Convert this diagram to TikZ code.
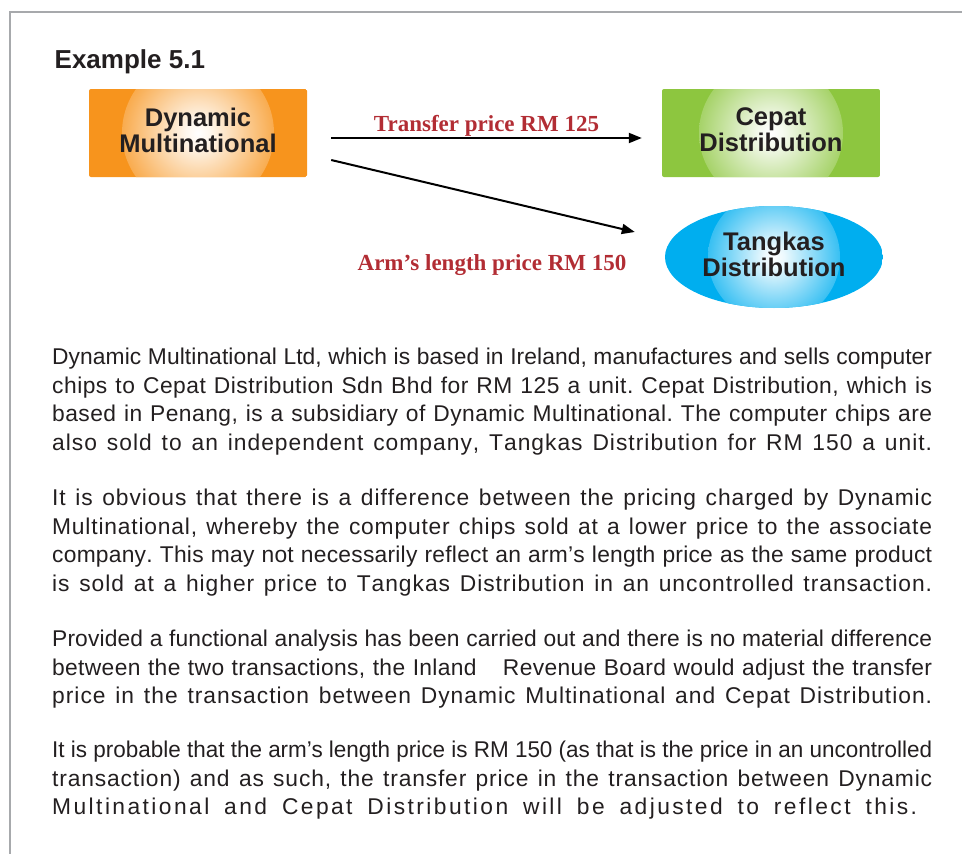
\documentclass[tikz,border=0pt]{standalone}
\usepackage{fontspec}
\usepackage{graphicx}
\setmainfont{Liberation Sans}
\newfontfamily\serifbf{Liberation Serif}
\usetikzlibrary{shapes.geometric, arrows.meta}
\definecolor{orgc}{RGB}{247,148,29}
\definecolor{grnc}{RGB}{141,198,63}
\definecolor{bluc}{RGB}{0,174,239}
\definecolor{txt}{RGB}{35,31,32}
\definecolor{lblred}{RGB}{178,45,52}
\definecolor{framec}{RGB}{167,169,172}
\colorlet{orgL}{orgc!78!white}
\colorlet{grnL}{grnc!78!white}
\colorlet{bluL}{bluc!78!white}
\colorlet{orgM}{orgc!45!white}
\colorlet{grnM}{grnc!45!white}
\colorlet{bluM}{bluc!45!white}
\colorlet{orgS}{orgc!8!white}
\colorlet{grnS}{grnc!8!white}
\colorlet{bluS}{bluc!8!white}
\pgfdeclareradialshading{glowO}{\pgfpoint{0bp}{0bp}}{color(0bp)=(white); color(4bp)=(orgS); color(15bp)=(orgM); color(25bp)=(orgL); color(50bp)=(orgL)}
\pgfdeclareradialshading{glowG}{\pgfpoint{0bp}{0bp}}{color(0bp)=(white); color(4bp)=(grnS); color(15bp)=(grnM); color(25bp)=(grnL); color(50bp)=(grnL)}
\pgfdeclareradialshading{glowB}{\pgfpoint{0bp}{0bp}}{color(0bp)=(white); color(4bp)=(bluS); color(15bp)=(bluM); color(25bp)=(bluL); color(50bp)=(bluL)}
\ExplSyntaxOn
\NewDocumentCommand \jline { m m }
 {
  \hbox_set:Nn \l_tmpa_box {#2}
  \dim_compare:nNnTF { \box_wd:N \l_tmpa_box } > {#1}
   { \resizebox{#1}{\height}{#2} }
   {
    \makebox[#1][s]{
      \str_map_inline:nn {#2}
       {
        \str_case:nnF {##1}
         {
          {~}{ \hskip 0.278em plus 2.5pt minus 0.05em }
          {|}{ \hskip 26pt }
         }
         { ##1 \hskip 0pt plus 1pt }
       }
      \unskip
     }
   }
 }
\ExplSyntaxOff
\tikzset{
  glowfill/.style n args={3}{path picture={
      \fill[#1] (path picture bounding box.south west) rectangle (path picture bounding box.north east);
      \shade[shading=#2] (path picture bounding box.center) circle[radius=#3];}},
  boxtxt/.style={font=\fontsize{25.5}{26}\selectfont\bfseries, text=txt, align=center, inner sep=0pt},
  rectbox/.style={rectangle, rounded corners=2pt, minimum width=218pt, minimum height=88pt},
  ellbox/.style={ellipse, minimum width=218pt, minimum height=102pt},
  body/.style={font=\fontsize{22.8}{26}\selectfont, text=txt, inner sep=0pt, anchor=base west},
  lbl/.style={font=\fontsize{23}{26}\serifbf\bfseries, text=lblred, inner sep=0pt},
  arr/.style={draw=black, line width=2pt, -{Triangle[length=13pt,width=10pt]}}
}
\begin{document}
\begin{tikzpicture}[x=1pt,y=-1pt]
\useasboundingbox (0,0) rectangle (962,854);
\draw[framec, line width=2pt] (962,12) -- (9.5,12) -- (9.5,854);
\node[anchor=base west, font=\fontsize{26}{30}\selectfont\bfseries, text=txt, inner sep=0pt] (title) at (54.5,68) {Example 5.1};

\node[rectbox, glowfill={orgc}{glowO}{76pt}] (dyn) at (198,133) {};
\node[rectbox, glowfill={grnc}{glowG}{72pt}] (cep) at (771,133) {};
\node[ellbox, glowfill={bluc}{glowB}{66pt}] (tang) at (774,257) {};
\node[boxtxt] (dynT) at (198,130) {Dynamic\\Multinational};
\node[boxtxt] (cepT) at (771,130) {Cepat\\Distribution};
\node[boxtxt] (tangT) at (774,254) {Tangkas\\Distribution};

\draw[arr] ([shift={(24,5)}]dyn.east) -- ([shift={(-20,5)}]cep.west)
  node[lbl, midway, anchor=base, yshift=7pt] (l1) {Transfer price RM 125};
\draw[arr] ([shift={(24,27)}]dyn.east) -- ([shift={(-30,-25)}]tang.west);
\node[lbl, anchor=base] (l2) at (492,270) {Arm’s length price RM 150};

\node[body] (p1a) at (52,364.5) {\jline{880pt}{Dynamic Multinational Ltd, which is based in Ireland, manufactures and sells computer}};
\node[body] (p1b) at (52,393.2) {\jline{880pt}{chips to Cepat Distribution Sdn Bhd for RM 125 a unit. Cepat Distribution, which is}};
\node[body] (p1c) at (52,421.9) {\jline{880pt}{based in Penang, is a subsidiary of Dynamic Multinational. The computer chips are}};
\node[body] (p1d) at (52,450.6) {\jline{880pt}{also sold to an independent company, Tangkas Distribution for RM 150 a unit.}};

\node[body] (p2a) at (52,505.5) {\jline{880pt}{It is obvious that there is a difference between the pricing charged by Dynamic}};
\node[body] (p2b) at (52,534.2) {\jline{880pt}{Multinational, whereby the computer chips sold at a lower price to the associate}};
\node[body] (p2c) at (52,562.9) {\jline{880pt}{company. This may not necessarily reflect an arm’s length price as the same product}};
\node[body] (p2d) at (52,591.6) {\jline{880pt}{is sold at a higher price to Tangkas Distribution in an uncontrolled transaction.}};

\node[body] (p3a) at (52,646.5) {\jline{880pt}{Provided a functional analysis has been carried out and there is no material difference}};
\node[body] (p3b) at (52,675.2) {\jline{880pt}{between the two transactions, the Inland|Revenue Board would adjust the transfer}};
\node[body] (p3c) at (52,703.9) {\jline{880pt}{price in the transaction between Dynamic Multinational and Cepat Distribution.}};

\node[body] (p4a) at (52,757.5) {\jline{880pt}{It is probable that the arm’s length price is RM 150 (as that is the price in an uncontrolled}};
\node[body] (p4b) at (52,786.2) {\jline{880pt}{transaction) and as such, the transfer price in the transaction between Dynamic}};
\node[body] (p4c) at (52,814.9) {\jline{865pt}{Multinational and Cepat Distribution will be adjusted to reflect this.}};
\end{tikzpicture}
\end{document}
